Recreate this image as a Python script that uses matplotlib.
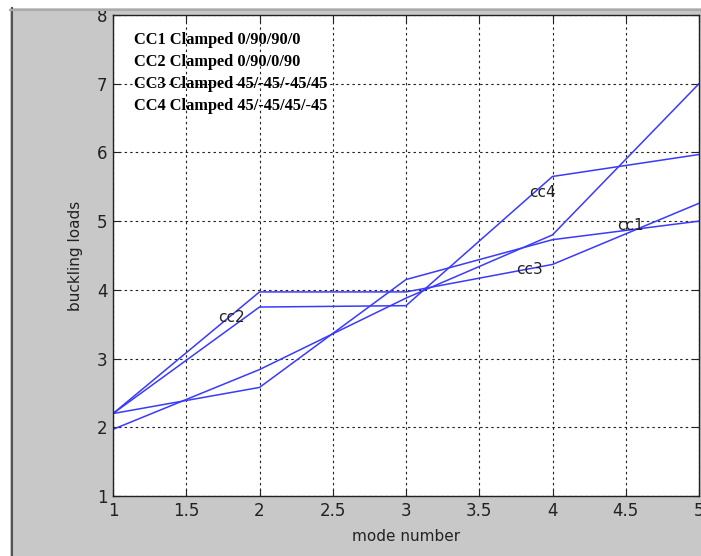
import matplotlib
matplotlib.use("Agg")
import matplotlib.pyplot as plt
from matplotlib.patches import Rectangle
from matplotlib.lines import Line2D

# mode numbers and buckling loads
modes = [1, 2, 3, 4, 5]
cc1 = [2.20, 2.58, 4.15, 4.73, 5.00]
cc2 = [1.97, 2.84, 3.88, 4.80, 7.00]
cc3 = [2.20, 3.97, 3.97, 4.37, 5.26]
cc4 = [2.20, 3.75, 3.77, 5.65, 5.97]

legend_lines = ["CC1 Clamped 0/90/90/0",
                "CC2 Clamped 0/90/0/90",
                "CC3 Clamped 45/-45/-45/45",
                "CC4 Clamped 45/-45/45/-45"]

W, H = 701, 556
fig = plt.figure(figsize=(W / 100, H / 100), dpi=100, facecolor="#c8c8c8")

# window frame bits round the figure
fig.patches.append(Rectangle((0, 1 - 8 / H), 1, 8 / H, transform=fig.transFigure,
                             facecolor="white", edgecolor="none", zorder=0))
fig.patches.append(Rectangle((0, 0), 10 / W, 1, transform=fig.transFigure,
                             facecolor="white", edgecolor="none", zorder=0))
fig.lines.append(Line2D([12 / W, 12 / W], [0, 1 - 8 / H], transform=fig.transFigure,
                        color="#555555", lw=1.5))
fig.lines.append(Line2D([10 / W, 1], [1 - 9.5 / H, 1 - 9.5 / H], transform=fig.transFigure,
                        color="#aaaaaa", lw=1.5))

ax = fig.add_axes([113 / W, 1 - 496 / H, 586 / W, 481 / H])

for ys in (cc1, cc2, cc3, cc4):
    ax.plot(modes, ys, color="#3a3aff", lw=1.1)

ax.set_xlim(1, 5)
ax.set_ylim(1, 8)
ax.set_xticks([1, 1.5, 2, 2.5, 3, 3.5, 4, 4.5, 5])
ax.set_xticklabels(["1", "1.5", "2", "2.5", "3", "3.5", "4", "4.5", "5"])
ax.set_yticks(range(1, 9))

ax.grid(True, color="#222222", linestyle=(0, (2.2, 2.8)), lw=0.8)
ax.tick_params(direction="in", length=5, top=True, right=True,
               labelsize=12, colors="#222222", pad=4)
for s in ax.spines.values():
    s.set_linewidth(1.0)
    s.set_color("#222222")

ax.set_xlabel("mode number", fontsize=11, color="#222222", labelpad=7)
ax.set_ylabel("buckling loads", fontsize=11, color="#222222", labelpad=10)

# text block in upper left
for i, t in enumerate(legend_lines):
    ax.text(1.14, 7.63 - 0.32 * i, t, family="Liberation Serif", weight="bold",
            fontsize=11.8, va="center", ha="left", color="black")

# curve labels
ax.text(1.72, 3.6, "cc2", fontsize=11, va="center", color="#222222")
ax.text(3.84, 5.42, "cc4", fontsize=11, va="center", color="#222222")
ax.text(3.75, 4.30, "cc3", fontsize=11, va="center", color="#222222")
ax.text(4.44, 4.94, "cc1", fontsize=11, va="center", color="#222222")

fig.savefig("out.png", dpi=100, facecolor=fig.get_facecolor())
